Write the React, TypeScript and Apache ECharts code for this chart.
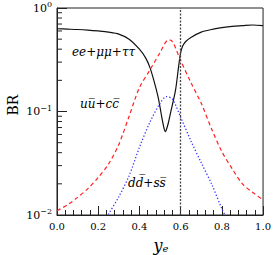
import React, { useEffect, useRef } from "react";
import * as echarts from "echarts";

const leptonX = [0, 0.05, 0.1, 0.15, 0.2, 0.25, 0.3, 0.35, 0.4, 0.43, 0.45, 0.47, 0.49, 0.5, 0.51, 0.52, 0.525, 0.53, 0.54, 0.55, 0.575, 0.59, 0.6, 0.61, 0.625, 0.65, 0.7, 0.75, 0.8, 0.85, 0.9, 0.95, 1.0];
const leptonBR = [0.63, 0.625, 0.62, 0.612, 0.6, 0.585, 0.56, 0.5, 0.4, 0.33, 0.27, 0.2, 0.14, 0.11, 0.085, 0.068, 0.064, 0.066, 0.077, 0.095, 0.16, 0.27, 0.37, 0.43, 0.475, 0.52, 0.585, 0.62, 0.645, 0.665, 0.675, 0.685, 0.675];

const upX = [0, 0.05, 0.1, 0.15, 0.2, 0.25, 0.3, 0.35, 0.4, 0.45, 0.5, 0.54, 0.55, 0.6, 0.65, 0.7, 0.75, 0.8, 0.85, 0.9, 0.95, 1.0];
const upBR = [0.011, 0.0125, 0.0148, 0.018, 0.023, 0.031, 0.048, 0.09, 0.17, 0.25, 0.37, 0.49, 0.49, 0.31, 0.19, 0.12, 0.068, 0.041, 0.028, 0.02, 0.0165, 0.014];

const downX = [0.24, 0.25, 0.3, 0.35, 0.4, 0.45, 0.5, 0.53, 0.56, 0.6, 0.65, 0.7, 0.75, 0.8, 0.82];
const downBR = [0.0095, 0.0102, 0.015, 0.024, 0.045, 0.078, 0.12, 0.139, 0.132, 0.088, 0.052, 0.032, 0.02, 0.0115, 0.0095];

const cutX = 0.6;
const xTicks = [0, 0.2, 0.4, 0.6, 0.8, 1.0];
const yMajor = [0.01, 0.1, 1];
const yMinor = [2, 3, 4, 5, 6, 7, 8, 9];

const FONT = "DejaVu Serif";

export default function App() {
  const ref = useRef<HTMLDivElement>(null);
  useEffect(() => {
    const chart = echarts.init(ref.current!, undefined, { renderer: "svg" });
    const zip = (xs: number[], ys: number[]) => xs.map((x, i) => [x, ys[i]]);
    chart.setOption({
      animation: false,
      grid: { left: 57, right: 9, top: 8, bottom: 40, show: true, borderColor: "#222", borderWidth: 1, backgroundColor: "transparent" },
      xAxis: {
        type: "value",
        min: 0,
        max: 1,
        interval: 0.2,
        axisLine: { lineStyle: { color: "#222", width: 1 } },
        axisTick: { inside: true, length: 9, lineStyle: { color: "#222" } },
        minorTick: { show: true, splitNumber: 5, length: 5, lineStyle: { color: "#222" } },
        splitLine: { show: false },
        axisLabel: { fontFamily: FONT, fontSize: 10, color: "#000", margin: 6, formatter: (v: number) => v.toFixed(1) },
      },
      yAxis: {
        type: "log",
        logBase: 10,
        min: 0.01,
        max: 1,
        axisLine: { lineStyle: { color: "#222", width: 1 } },
        axisTick: { inside: true, length: 10, lineStyle: { color: "#222" } },
        splitLine: { show: false },
        axisLabel: {
          fontFamily: FONT,
          fontSize: 11,
          color: "#000",
          margin: 5,
          formatter: (v: number) => {
            const e = Math.round(Math.log10(v));
            return "10{s|" + (e === 0 ? "0" : "\u2212" + Math.abs(e)) + "}";
          },
          rich: {
            s: { fontFamily: FONT, fontSize: 8, color: "#000", padding: [0, 0, 7, 0] },
          },
        },
      },
      series: [
        {
          type: "line",
          data: zip(leptonX, leptonBR),
          showSymbol: false,
          smooth: 0.3,
          lineStyle: { color: "#111", width: 1.2 },
          markLine: {
            silent: true,
            symbol: "none",
            label: { show: false },
            lineStyle: { color: "#444", type: [2, 1.5], width: 1.3 },
            data: [{ xAxis: cutX }],
          },
        },
        {
          type: "line",
          data: zip(upX, upBR),
          showSymbol: false,
          smooth: 0.3,
          lineStyle: { color: "#ff2020", width: 1.2, type: [4, 3] },
        },
        {
          type: "line",
          data: zip(downX, downBR),
          showSymbol: false,
          smooth: 0.3,
          lineStyle: { color: "#3a3aff", width: 1.3, type: [1.3, 2] },
        },
      ],
    });

    const x0 = chart.convertToPixel({ xAxisIndex: 0 }, 0) as number;
    const graphics: any[] = [];
    for (let d = 0; d < yMajor.length - 1; d++) {
      for (const m of yMinor) {
        const y = chart.convertToPixel({ yAxisIndex: 0 }, yMajor[d] * m) as number;
        graphics.push({
          type: "line",
          shape: { x1: x0, y1: y, x2: x0 + 5, y2: y },
          style: { stroke: "#222", lineWidth: 1 },
          silent: true,
        });
      }
    }
    const txt = (x: number, y: number, text: string, extra: any = {}) => ({
      type: "text",
      x,
      y,
      style: { text, fontFamily: FONT, fontStyle: "italic", fontSize: 12, fill: "#000", textAlign: "left", textVerticalAlign: "middle", ...extra },
      silent: true,
    });
    graphics.push(txt(72, 52, "ee+\u03bc\u03bc+\u03c4\u03c4"));
    graphics.push(txt(80, 104, "uu\u0305+cc\u0305"));
    graphics.push(txt(128, 183, "dd\u0305+ss\u0305"));
    graphics.push({
      type: "text",
      x: 13,
      y: 105,
      rotation: Math.PI / 2,
      style: { text: "BR", fontFamily: FONT, fontSize: 14, fill: "#000", textAlign: "center", textVerticalAlign: "middle" },
      silent: true,
    });
    graphics.push({
      type: "text",
      x: 161,
      y: 245,
      style: {
        text: "{y|y}{e|e}",
        fontFamily: FONT,
        textAlign: "center",
        textVerticalAlign: "middle",
        rich: {
          y: { fontFamily: FONT, fontStyle: "italic", fontSize: 16, fill: "#000" },
          e: { fontFamily: FONT, fontStyle: "italic", fontSize: 10, fill: "#000", padding: [6, 0, 0, 0] },
        },
      },
      silent: true,
    });
    chart.setOption({ graphic: graphics });
    return () => chart.dispose();
  }, []);
  return <div ref={ref} style={{ width: 274, height: 255, position: "absolute", left: 0, top: 0 }} />;
}
